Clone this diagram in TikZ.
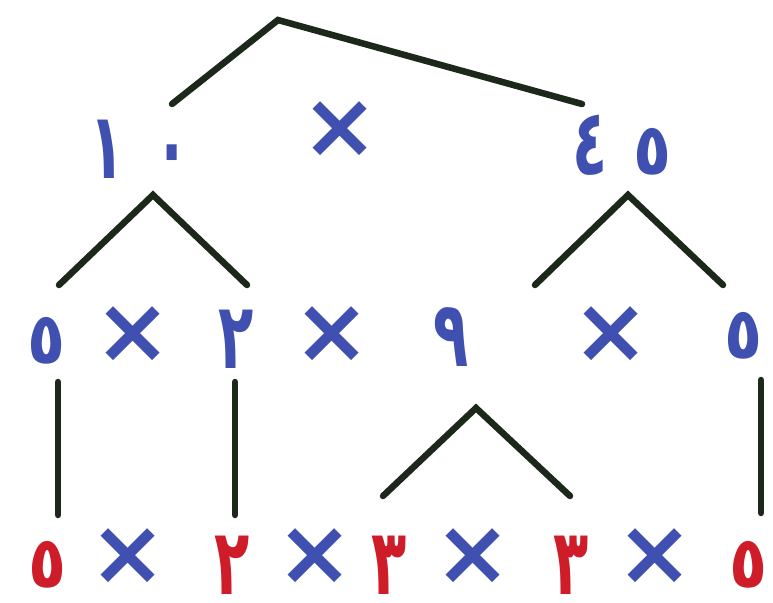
\documentclass[tikz,border=0pt]{standalone}
\usepackage{fontspec}
\usepackage{xcolor}
\usepackage{tikz}
\newfontfamily\arabicfont[Script=Arabic]{DejaVu Sans Bold}
\newfontfamily\symfont{DejaVu Sans Bold}
\definecolor{numblue}{RGB}{64,80,176}
\definecolor{primered}{RGB}{206,28,40}
\definecolor{treeline}{RGB}{28,40,26}
% narrow, tall digits
\newcommand\tallnum[1]{\scalebox{0.74}[1.18]{#1}}
% the five is rounder and smaller
\newcommand\fivenum{\scalebox{0.8}[0.92]{٥}}
\tikzset{
  num/.style={anchor=base,inner sep=0pt,text=numblue,font=\arabicfont\fontsize{78}{78}\selectfont},
  prime/.style={num,text=primered},
  times/.style={inner sep=0pt,text=numblue,font=\symfont\fontsize{92}{92}\selectfont},
  branch/.style={draw=treeline,line width=6.5pt,line cap=round,line join=miter}
}
\begin{document}
\begin{tikzpicture}[x=1pt,y=-1pt]
\useasboundingbox (0,0) rectangle (773,602);
% first split
\node (10) at (140,178) [num] {\tallnum{١\kern40pt٠}};
\node (x1) at (340,130) [times] {×};
\node (45) at (622,174) [num] {\tallnum{٤}\kern25pt\fivenum};
% second row
\node (5a) at (47,363) [num] {\fivenum};
\node (x2) at (133,335) [times] {×};
\node (2a) at (236,368) [num] {\tallnum{٢}};
\node (x3) at (332,335) [times] {×};
\node (9) at (451,366) [num] {\tallnum{٩}};
\node (x4) at (611,335) [times] {×};
\node (5b) at (744,358) [num] {\fivenum};
% primes
\node (5c) at (48,587) [prime] {\fivenum};
\node (x5) at (128,557) [times] {×};
\node (2b) at (232,594) [prime] {\tallnum{٢}};
\node (x6) at (315,557) [times] {×};
\node (3a) at (389,594) [prime] {\tallnum{٣}};
\node (x7) at (473,557) [times] {×};
\node (3b) at (571,594) [prime] {\tallnum{٣}};
\node (x8) at (655,557) [times] {×};
\node (5d) at (749,587) [prime] {\fivenum};
% branch points
\coordinate (t1) at (278,20);
\coordinate (t1l) at (172,104);
\coordinate (t1r) at (582,104);
\coordinate (t2) at (153,195);
\coordinate (t2l) at (59,285);
\coordinate (t2r) at (247,285);
\coordinate (t3) at (628,195);
\coordinate (t3l) at (535,285);
\coordinate (t3r) at (723,285);
\coordinate (t4) at (476,408);
\coordinate (t4l) at (383,496);
\coordinate (t4r) at (570,496);
\coordinate (v1a) at (58,382);
\coordinate (v1b) at (58,515);
\coordinate (v2a) at (235,382);
\coordinate (v2b) at (235,515);
\coordinate (v3a) at (761,380);
\coordinate (v3b) at (761,513);
\draw [branch] (t1l) -- (t1) -- (t1r);
\draw [branch] (t2l) -- (t2) -- (t2r);
\draw [branch] (t3l) -- (t3) -- (t3r);
\draw [branch] (t4l) -- (t4) -- (t4r);
\draw [branch] (v1a) -- (v1b);
\draw [branch] (v2a) -- (v2b);
\draw [branch] (v3a) -- (v3b);
\end{tikzpicture}
\end{document}
